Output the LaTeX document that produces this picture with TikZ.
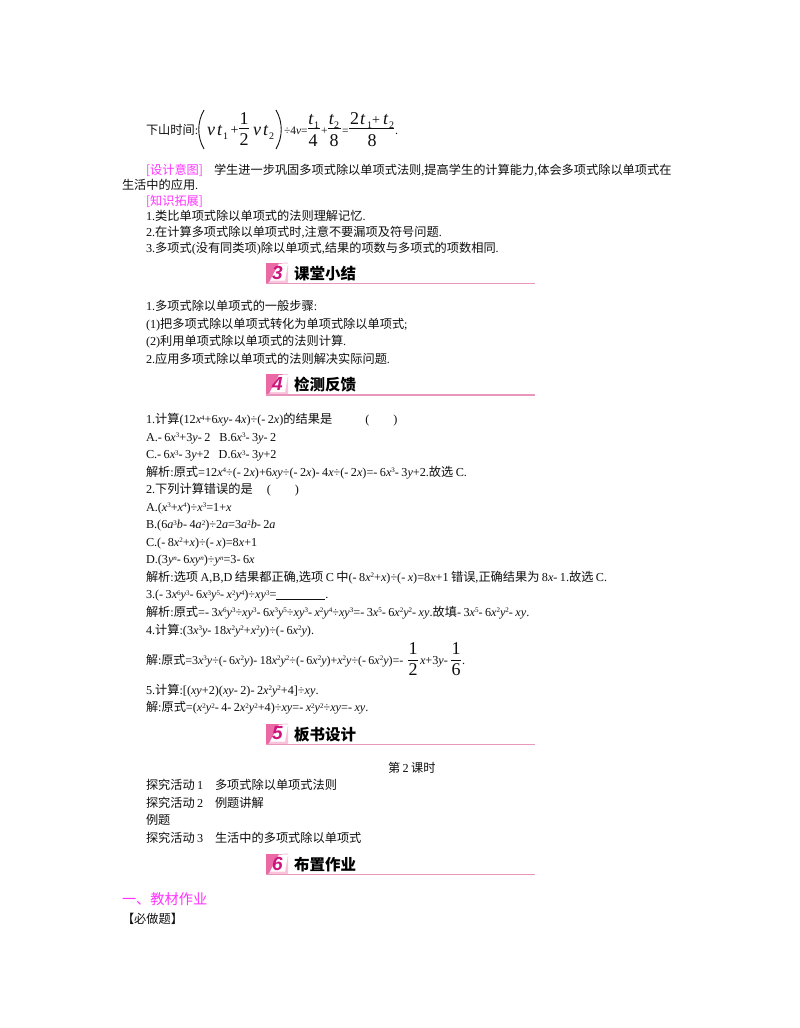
\documentclass[tikz,border=0pt]{standalone}
\usepackage{fontspec}
\setmainfont[WordSpace=0.8]{Liberation Serif}
\newfontfamily\cjkfont[WordSpace=0.8]{Noto Sans CJK SC}
\newfontfamily\numfont{Liberation Sans}
\definecolor{tagpink}{RGB}{255,51,255}
\definecolor{barpink}{RGB}{232,150,188}
\definecolor{boxdark}{RGB}{235,105,165}
\definecolor{boxlight}{RGB}{250,195,220}
\definecolor{numpink}{RGB}{205,20,125}
\definecolor{inktext}{RGB}{15,15,15}
\newcommand{\zh}[1]{{\cjkfont #1}}
\newcommand{\va}[1]{\textit{#1}}
\newcommand{\su}[1]{\raisebox{.55ex}{\fontsize{7}{7}\selectfont #1}}
% one bar with its number badge
\newcommand{\secbar}[4]{%
  \fill[boxdark] (266,#1-21) rectangle (288,#1);
  \fill[boxlight] (268,#1) -- (283,#1-21) -- (288,#1-21) -- (288,#1) -- cycle;
  \fill[white] (270,#1-3) -- (279,#1-20) -- (288,#1-20) -- (285,#1-3) -- cycle;
  \draw[barpink,line width=1.2pt] (266,#1) -- (535,#1);
  \node[badgenum] (#2) at (277.5,#1-11) {#3};
  \node[bartitle] (#2t) at (294,#1-4.5) {#4};
}
\tikzset{
  textline/.style={anchor=base west,inner sep=0pt,outer sep=0pt,text=inktext,font=\fontsize{12.2}{14}\selectfont},
  tagline/.style={textline,text=tagpink},
  bigmath/.style={textline,font=\fontsize{18}{18}\selectfont},
  submath/.style={textline,font=\fontsize{10}{10}\selectfont},
  stack/.style={bigmath,anchor=base},
  smallmath/.style={textline,font=\fontsize{11.5}{12}\selectfont},
  plusmath/.style={textline,font=\fontsize{14}{14}\selectfont},
  fracbar/.style={inktext,line width=.6pt},
  parenline/.style={inktext,line width=.9pt},
  badgenum/.style={inner sep=0pt,text=numpink,font=\numfont\bfseries\itshape\fontsize{19}{19}\selectfont},
  bartitle/.style={anchor=base west,inner sep=0pt,text=black,font=\cjkfont\bfseries\fontsize{15.5}{16}\selectfont}
}
\begin{document}
\begin{tikzpicture}[x=1pt,y=-1pt]
\useasboundingbox (0,0) rectangle (800,1028);
\fill[white] (0,0) rectangle (800,1028);

% first formula
\node[textline] (down) at (146,134) {\zh{下山时间}:};
\draw[parenline] (204,110) .. controls (197,122) and (197,137) .. (204,149);
\node[bigmath] (va) at (207,135) {\va{v}};
\node[bigmath] (ta) at (217,135) {\va{t}};
\node[submath] (ia) at (223,139) {1};
\node[plusmath] (pa) at (230.5,134) {+};
\node[stack] (n1) at (244,124) {1};
\draw[fracbar] (239,128) -- (249,128);
\node[stack] (d2) at (244,145) {2};
\node[bigmath] (vb) at (253,135) {\va{v}};
\node[bigmath] (tb) at (263,135) {\va{t}};
\node[submath] (ib) at (269,139) {2};
\draw[parenline] (276,110) .. controls (283,122) and (283,137) .. (276,149);
\node[smallmath] (div) at (284,134) {÷4\va{v}=};
\node[stack] (t1) at (311,124) {\va{t}};
\node[submath] (it1) at (314,128) {1};
\draw[fracbar] (308,128) -- (320,128);
\node[stack] (d4) at (313,146) {4};
\node[smallmath] (pb) at (321,134) {+};
\node[stack] (t2) at (331.5,124) {\va{t}};
\node[submath] (it2) at (334,128) {2};
\draw[fracbar] (328,128) -- (341,128);
\node[stack] (d8) at (334,146) {8};
\node[smallmath] (eq) at (342,134) {=};
\node[bigmath] (two) at (350,124) {2};
\node[bigmath] (t3a) at (360,124) {\va{t}};
\node[submath] (it3) at (367,128) {1};
\node[plusmath] (pc) at (372,124) {+};
\node[bigmath] (t3) at (383,124) {\va{t}};
\node[submath] (it4) at (389,128) {2};
\draw[fracbar] (349,128) -- (394,128);
\node[stack] (d8b) at (372,146) {8};
\node[textline] (dot) at (395,134) {.};

% design note
\node[tagline] (tag) at (146,174) {\zh{[设计意图]}};
\node[textline] (aim) at (214,174) {\zh{学生进一步巩固多项式除以单项式法则},\zh{提高学生的计算能力},\zh{体会多项式除以单项式在}};
\node[textline] (aimb) at (122,189) {\zh{生活中的应用}.};
\node[tagline] (ext) at (146,205) {\zh{[知识拓展]}};
\node[textline] (ea) at (146,220.5) {1.\zh{类比单项式除以单项式的法则理解记忆}.};
\node[textline] (eb) at (146,236.5) {2.\zh{在计算多项式除以单项式时},\zh{注意不要漏项及符号问题}.};
\node[textline] (ec) at (146,252.5) {3.\zh{多项式}(\zh{没有同类项})\zh{除以单项式},\zh{结果的项数与多项式的项数相同}.};

\secbar{283.5}{barc}{3}{课堂小结}

\node[textline] (sa) at (146,310.5) {1.\zh{多项式除以单项式的一般步骤}:};
\node[textline] (sb) at (146,328) {(1)\zh{把多项式除以单项式转化为单项式除以单项式};};
\node[textline] (sc) at (146,345.5) {(2)\zh{利用单项式除以单项式的法则计算}.};
\node[textline] (sd) at (146,363) {2.\zh{应用多项式除以单项式的法则解决实际问题}.};

\secbar{395}{bard}{4}{检测反馈}

\node[textline] (qa) at (146,423.5) {1.\zh{计算}(12\va{x}\su{4}+6\va{xy}- 4\va{x})÷(- 2\va{x})\zh{的结果是}\hspace*{33pt}(\hspace*{24pt})};
\node[textline] (qb) at (146,441) {A.- 6\va{x}\su{3}+3\va{y}- 2\hspace*{9pt}B.6\va{x}\su{3}- 3\va{y}- 2};
\node[textline] (qc) at (146,458.5) {C.- 6\va{x}\su{3}- 3\va{y}+2\hspace*{9pt}D.6\va{x}\su{3}- 3\va{y}+2};
\node[textline] (qd) at (146,476) {\zh{解析}:\zh{原式}=12\va{x}\su{4}÷(- 2\va{x})+6\va{xy}÷(- 2\va{x})- 4\va{x}÷(- 2\va{x})=- 6\va{x}\su{3}- 3\va{y}+2.\zh{故选} C.};
\node[textline] (ra) at (146,493.5) {2.\zh{下列计算错误的是}\hspace*{14pt}(\hspace*{24pt})};
\node[textline] (rb) at (146,511) {A.(\va{x}\su{3}+\va{x}\su{4})÷\va{x}\su{3}=1+\va{x}};
\node[textline] (rc) at (146,528.5) {B.(6\va{a}\su{3}\va{b}- 4\va{a}\su{2})÷2\va{a}=3\va{a}\su{2}\va{b}- 2\va{a}};
\node[textline] (rd) at (146,546) {C.(- 8\va{x}\su{2}+\va{x})÷(- \va{x})=8\va{x}+1};
\node[textline] (re) at (146,563.5) {D.(3\va{y}\su{\va{n}}- 6\va{xy}\su{\va{n}})÷\va{y}\su{\va{n}}=3- 6\va{x}};
\node[textline] (rf) at (146,581) {\zh{解析}:\zh{选项} A,B,D \zh{结果都正确},\zh{选项} C \zh{中}(- 8\va{x}\su{2}+\va{x})÷(- \va{x})=8\va{x}+1 \zh{错误},\zh{正确结果为} 8\va{x}- 1.\zh{故选} C.};
\node[textline] (ta3) at (146,598.5) {3.(- 3\va{x}\su{6}\va{y}\su{3}- 6\va{x}\su{3}\va{y}\su{5}- \va{x}\su{2}\va{y}\su{4})÷\va{xy}\su{3}=\rule[-1.5pt]{49pt}{.7pt}.};
\node[textline] (tb3) at (146,616) {\zh{解析}:\zh{原式}=- 3\va{x}\su{6}\va{y}\su{3}÷\va{xy}\su{3}- 6\va{x}\su{3}\va{y}\su{5}÷\va{xy}\su{3}- \va{x}\su{2}\va{y}\su{4}÷\va{xy}\su{3}=- 3\va{x}\su{5}- 6\va{x}\su{2}\va{y}\su{2}- \va{xy}.\zh{故填}- 3\va{x}\su{5}- 6\va{x}\su{2}\va{y}\su{2}- \va{xy}.};
\node[textline] (ua) at (146,634) {4.\zh{计算}:(3\va{x}\su{3}\va{y}- 18\va{x}\su{2}\va{y}\su{2}+\va{x}\su{2}\va{y})÷(- 6\va{x}\su{2}\va{y}).};
\node[textline,font=\fontsize{12}{14}\selectfont] (ub) at (146,664) {\zh{解}:\zh{原式}=3\va{x}\su{3}\va{y}÷(- 6\va{x}\su{2}\va{y})- 18\va{x}\su{2}\va{y}\su{2}÷(- 6\va{x}\su{2}\va{y})+\va{x}\su{2}\va{y}÷(- 6\va{x}\su{2}\va{y})=- };
\node[stack] (ub1) at (413,654) {1};
\draw[fracbar] (408,660) -- (418,660);
\node[stack] (ub2) at (413,675) {2};
\node[textline] (uc) at (420,664) {\va{x}+3\va{y}- };
\node[stack] (uc1) at (456,654) {1};
\draw[fracbar] (451,660) -- (461,660);
\node[stack] (uc6) at (456,675) {6};
\node[textline] (ud) at (462,664) {.};
\node[textline] (va5) at (146,694) {5.\zh{计算}:[(\va{xy}+2)(\va{xy}- 2)- 2\va{x}\su{2}\va{y}\su{2}+4]÷\va{xy}.};
\node[textline] (vb5) at (146,711.5) {\zh{解}:\zh{原式}=(\va{x}\su{2}\va{y}\su{2}- 4- 2\va{x}\su{2}\va{y}\su{2}+4)÷\va{xy}=- \va{x}\su{2}\va{y}\su{2}÷\va{xy}=- \va{xy}.};

\secbar{744.5}{bare}{5}{板书设计}

\node[textline] (hour) at (388,772) {\zh{第} 2 \zh{课时}};
\node[textline] (wa) at (146,789.5) {\zh{探究活动} 1};
\node[textline] (wb) at (215,789.5) {\zh{多项式除以单项式法则}};
\node[textline] (wc) at (146,807) {\zh{探究活动} 2};
\node[textline] (wd) at (215,807) {\zh{例题讲解}};
\node[textline] (we) at (146,824.5) {\zh{例题}};
\node[textline] (wf) at (146,842) {\zh{探究活动} 3};
\node[textline] (wg) at (215,842) {\zh{生活中的多项式除以单项式}};

\secbar{874.5}{barf}{6}{布置作业}

\node[tagline,font=\fontsize{14.2}{16}\selectfont] (hw) at (122,904.5) {\zh{一、教材作业}};
\node[textline] (must) at (122,923) {\zh{【必做题】}};
\end{tikzpicture}
\end{document}
